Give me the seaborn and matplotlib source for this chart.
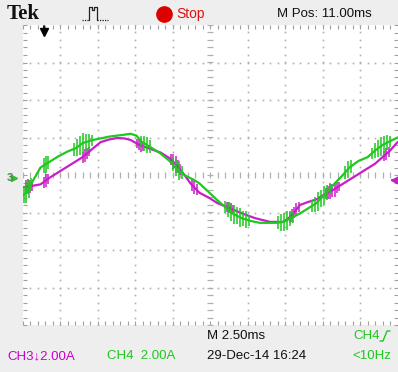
import numpy as np
import pandas as pd
import matplotlib
matplotlib.use("Agg")
import matplotlib.pyplot as plt
from matplotlib.ticker import MultipleLocator
from matplotlib.lines import Line2D
import seaborn as sns

# ---- data (time in ms, current in A) ----
t_ch4 = [0.0, 0.3, 0.7, 1.2, 1.8, 2.4, 3.0, 3.6, 4.0, 4.6, 5.2, 5.8, 6.3, 6.8, 7.2,
         7.6, 7.9, 8.5, 9.2, 9.8, 10.3, 10.9, 11.4, 11.8, 12.4, 13.0, 13.5, 14.0,
         14.6, 15.2, 15.8, 16.5, 17.0, 17.4, 17.9, 18.5, 19.0, 19.6, 20.2, 20.7,
         21.3, 21.8, 22.4, 23.0, 23.5, 24.0, 24.5, 25.0]
i_ch4 = [-1.1, -0.9, -0.3, 0.4, 0.7, 1.0, 1.25, 1.45, 1.7, 1.85, 1.95, 2.05, 2.1,
         2.15, 2.2, 2.1, 1.8, 1.5, 1.15, 0.75, 0.3, -0.05, -0.25, -0.45, -0.9,
         -1.35, -1.7, -2.05, -2.3, -2.45, -2.55, -2.55, -2.55, -2.5, -2.3, -2.05,
         -1.8, -1.5, -1.0, -0.55, -0.05, 0.4, 0.75, 0.95, 1.3, 1.6, 1.8, 2.0]

t_ch3 = [0.0, 0.5, 1.2, 1.8, 2.4, 3.0, 3.6, 4.0, 4.6, 5.2, 5.8, 6.3, 6.8, 7.2,
         7.8, 8.5, 9.2, 9.8, 10.3, 10.8, 11.2, 11.8, 12.4, 13.0, 13.6, 14.2,
         14.8, 15.5, 16.0, 16.5, 17.4, 17.9, 18.5, 19.0, 19.6, 20.2, 20.7,
         21.3, 21.8, 22.4, 23.0, 23.5, 24.0, 24.5, 25.0]
i_ch3 = [-0.65, -0.6, -0.5, -0.15, 0.15, 0.45, 0.75, 0.95, 1.35, 1.75, 1.9, 1.97,
         1.95, 1.87, 1.6, 1.4, 1.2, 0.9, 0.5, 0.0, -0.45, -0.95, -1.2, -1.5,
         -1.7, -1.9, -2.1, -2.3, -2.4, -2.5, -2.5, -2.2, -1.6, -1.45, -1.3,
         -1.0, -0.8, -0.5, -0.25, 0.05, 0.35, 0.6, 0.95, 1.3, 1.75]

spike_t_ch4 = [0.1, 0.25, 0.4, 0.55, 1.4, 1.55, 1.7,
               3.4, 3.6, 3.8, 4.0, 4.2, 4.4, 4.6,
               7.9, 8.1, 8.3, 8.5, 10.0, 10.2, 10.4, 10.6,
               13.5, 13.7, 13.9, 14.1, 14.3, 14.5, 14.7, 14.9, 15.1,
               17.0, 17.2, 17.4, 17.6, 17.8, 18.0,
               19.3, 19.5, 19.7, 19.9, 20.1, 20.3, 20.5,
               21.5, 21.7, 21.9, 23.3, 23.5, 23.7, 23.9, 24.1, 24.3, 24.5]
spike_h_ch4 = [0.45, 0.55, 0.5, 0.35, 0.4, 0.45, 0.35,
               0.35, 0.45, 0.5, 0.55, 0.45, 0.4, 0.3,
               0.3, 0.4, 0.45, 0.35, 0.35, 0.45, 0.5, 0.35,
               0.3, 0.4, 0.45, 0.5, 0.45, 0.5, 0.4, 0.45, 0.3,
               0.35, 0.45, 0.5, 0.5, 0.4, 0.3,
               0.3, 0.4, 0.5, 0.45, 0.5, 0.4, 0.3,
               0.35, 0.45, 0.35, 0.3, 0.4, 0.45, 0.5, 0.45, 0.4, 0.3]
spike_t_ch3 = [0.2, 0.35, 0.5, 0.65, 1.4, 1.55, 1.7, 4.0, 4.15, 4.3, 4.45,
               7.6, 7.75, 7.9, 8.05, 9.9, 10.05, 10.2, 10.35, 10.5,
               11.3, 11.45, 11.6, 13.6, 13.75, 13.9, 14.05,
               17.8, 17.95, 18.1, 18.25, 18.4,
               20.2, 20.35, 20.5, 20.65, 20.8, 20.95, 21.1, 24.1, 24.25, 24.4]
spike_h_ch3 = [0.35, 0.4, 0.35, 0.25, 0.3, 0.35, 0.25, 0.3, 0.35, 0.3, 0.25,
               0.25, 0.3, 0.35, 0.25, 0.3, 0.4, 0.45, 0.35, 0.3,
               0.3, 0.35, 0.3, 0.25, 0.3, 0.3, 0.25,
               0.3, 0.35, 0.3, 0.35, 0.25,
               0.3, 0.35, 0.4, 0.35, 0.4, 0.3, 0.25, 0.25, 0.3, 0.25]

GREEN = "#1ec81e"
MAGENTA = "#c81ec8"
BG = "#eeeeee"

sns.set_theme(style="white")
plt.rcParams["font.family"] = ["Liberation Sans", "DejaVu Sans"]

W, H = 398, 372
fig = plt.figure(figsize=(W / 100, H / 100), dpi=100, facecolor=BG)
x0, x1, y0, y1 = 22.5, 397.5, 25, 325
ax = fig.add_axes([x0 / W, (H - y1) / H, (x1 - x0) / W, (y1 - y0) / H])
ax.set_facecolor("white")
ax.set_xlim(0, 25)
ax.set_ylim(-8, 8)
for s in ax.spines.values():
    s.set_visible(False)

# edge ticks
ax.xaxis.set_major_locator(MultipleLocator(2.5))
ax.xaxis.set_minor_locator(MultipleLocator(0.5))
ax.yaxis.set_major_locator(MultipleLocator(2))
ax.yaxis.set_minor_locator(MultipleLocator(0.4))
ax.tick_params(which="both", direction="in", length=3, width=0.8, color="#a0a0a0",
               top=True, right=True, bottom=True, left=True,
               labelbottom=False, labelleft=False)
ax.grid(False)

GRID = "#b0b0b0"
minor_x = np.arange(0, 25.01, 0.5)
minor_y = np.arange(-8, 8.01, 0.4)
for gx in [2.5, 5, 7.5, 10, 15, 17.5, 20, 22.5]:
    ax.plot(np.full_like(minor_y, gx), minor_y, ls="none", marker="s", ms=1.2,
            mec="none", mfc=GRID, zorder=1)
for gy in [-6, -4, -2, 2, 4, 6]:
    ax.plot(minor_x, np.full_like(minor_x, gy), ls="none", marker="s", ms=1.2,
            mec="none", mfc=GRID, zorder=1)
# centre crosshair
ax.plot(minor_x, np.zeros_like(minor_x), ls="none", marker="|", ms=4.5, mew=0.9,
        color=GRID, zorder=1)
ax.plot(np.full_like(minor_y, 12.5), minor_y, ls="none", marker="_", ms=4.5, mew=0.9,
        color=GRID, zorder=1)

df4 = pd.DataFrame({"t": t_ch4, "i": i_ch4})
df3 = pd.DataFrame({"t": t_ch3, "i": i_ch3})
sns.lineplot(data=df3, x="t", y="i", ax=ax, color=MAGENTA, lw=1.6, sort=False, zorder=3)
sns.lineplot(data=df4, x="t", y="i", ax=ax, color=GREEN, lw=1.6, sort=False, zorder=4)

c3 = np.interp(spike_t_ch3, t_ch3, i_ch3)
ax.vlines(spike_t_ch3, c3 - np.array(spike_h_ch3), c3 + np.array(spike_h_ch3),
          color=MAGENTA, lw=1.1, zorder=3)
c4 = np.interp(spike_t_ch4, t_ch4, i_ch4)
ax.vlines(spike_t_ch4, c4 - np.array(spike_h_ch4), c4 + np.array(spike_h_ch4),
          color=GREEN, lw=1.1, zorder=4)
ax.set_xlabel("")
ax.set_ylabel("")

# ground marker on the right
ax.plot([24.85], [-0.25], marker="<", ms=6, color=MAGENTA, clip_on=False, zorder=5)
ax.plot([24.6, 25.0], [-0.25, -0.25], color=MAGENTA, lw=1.5, clip_on=False, zorder=5)


def fx(px):
    return px / W


def fy(py):
    return 1 - py / H


fig.text(fx(10), fy(178), "3", color=GREEN, fontsize=7.5, fontweight="bold",
         ha="center", va="center")
fig.text(fx(10.6), fy(178), "3", color=MAGENTA, fontsize=7.5, fontweight="bold",
         ha="center", va="center", alpha=0.45)
fig.add_artist(Line2D([fx(14)], [fy(178)], marker=">", ms=4.5, color=GREEN, ls="none"))

# trigger position arrow
fig.add_artist(Line2D([fx(44), fx(44)], [fy(26), fy(31)], color="black", lw=1.3))
fig.add_artist(Line2D([fx(44)], [fy(32)], marker="v", ms=5.5, color="black", ls="none"))

# header
fig.text(fx(7), fy(14), "Tek", family=["Liberation Serif", "DejaVu Serif"],
         fontweight="bold", fontsize=15, ha="left", va="center", color="#111111")
dx = [82, 89]
fig.add_artist(Line2D([fx(82), fx(89)], [fy(20), fy(20)], color="#222222",
                      lw=0.9, ls=(0, (1, 1))))
fig.add_artist(Line2D([fx(97), fx(108)], [fy(20), fy(20)], color="#222222",
                      lw=0.9, ls=(0, (1, 1))))
fig.add_artist(Line2D([fx(89), fx(89), fx(92), fx(92), fx(94), fx(94), fx(97), fx(97)],
                      [fy(20), fy(7), fy(7), fy(10), fy(10), fy(7), fy(7), fy(20)],
                      color="#222222", lw=0.9))
fig.add_artist(Line2D([fx(163.5)], [fy(14)], marker="o", ms=11, color="#dd0000",
                      ls="none"))
fig.text(fx(176), fy(14), "Stop", color="#dd1111", fontsize=10, ha="left",
         va="center")
fig.text(fx(277), fy(14), "M Pos: 11.00ms", color="#111111", fontsize=9.5,
         ha="left", va="center")

# footer
fig.text(fx(207), fy(336), "M 2.50ms", color="#111111", fontsize=9.5, ha="left",
         va="center")
fig.text(fx(353), fy(336), "CH4", color=GREEN, fontsize=9.5, ha="left", va="center")
fig.add_artist(Line2D([fx(380), fx(383), fx(387), fx(390)],
                      [fy(341), fy(341), fy(331), fy(331)], color=GREEN, lw=1.0))
fig.text(fx(7), fy(356), "CH3\u21932.00A", color="#cc00cc", fontsize=9.5, ha="left",
         va="center")
fig.text(fx(107), fy(356), "CH4  2.00A", color=GREEN, fontsize=9.5, ha="left",
         va="center")
fig.text(fx(207), fy(356), "29-Dec-14 16:24", color="#111111", fontsize=9.5,
         ha="left", va="center")
fig.text(fx(352), fy(356), "<10Hz", color=GREEN, fontsize=9.5, ha="left",
         va="center")

fig.savefig("out.png", dpi=100, facecolor=BG)
